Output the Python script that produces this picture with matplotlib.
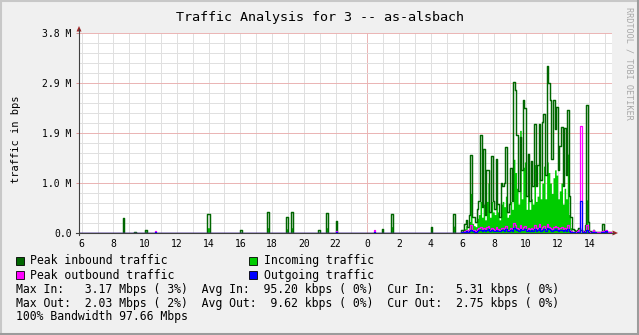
import numpy as np
import matplotlib.pyplot as plt
from matplotlib.lines import Line2D
from matplotlib.patches import Polygon, Rectangle

W, H = 639, 335
MONO = 'DejaVu Sans Mono'

# ---------------- data (hours since midnight of day 1, Mbit/s) ----------------
t_start, t_step, t_end = 5.8, 0.1, 39.4

# isolated inbound spikes in the quiet part
spike_t    = [8.6, 9.3, 10.0, 13.9, 14.0, 16.0, 17.7, 18.9, 19.2, 20.9, 21.4, 22.0, 24.9, 25.5, 28.0, 29.4]
spike_peak = [0.29, 0.02, 0.06, 0.36, 0.36, 0.06, 0.40, 0.30, 0.40, 0.05, 0.38, 0.22, 0.07, 0.37, 0.12, 0.37]
spike_in   = [0.07, 0.01, 0.04, 0.10, 0.10, 0.02, 0.10, 0.08, 0.10, 0.02, 0.10, 0.06, 0.03, 0.12, 0.03, 0.13]

# isolated outbound spikes in the quiet part
spike_out_t    = [10.6, 22.0, 24.4]
spike_out_peak = [0.04, 0.03, 0.05]
spike_out_avg  = [0.01, 0.01, 0.02]

# busy period, one value every 0.1 h starting at 29.9 h
busy_t0 = 29.9
busy_peak_in = [
    0.05, 0.02, 0.18, 0.25, 0.12, 0.35, 1.48, 0.30, 0.31, 0.20,
    0.45, 0.60, 1.86, 0.50, 1.59, 0.35, 1.20, 1.20, 0.40, 1.46,
    0.60, 0.45, 1.40, 0.55, 0.30, 0.95, 0.90, 0.95, 1.63, 0.40,
    0.55, 1.23, 0.60, 2.86, 2.72, 1.86, 0.80, 1.82, 1.20, 2.53,
    2.38, 0.70, 1.51, 0.60, 1.37, 0.90, 2.08, 0.90, 1.30, 2.07,
    1.00, 2.10, 2.27, 1.10, 3.17, 2.85, 2.53, 1.40, 2.53, 1.97,
    2.40, 1.20, 1.65, 2.02, 0.90, 2.00, 1.10, 2.34, 0.70, 0.30,
    0.08, 0.05, 0.03, 0.06, 0.10, 0.05, 0.04, 0.03, 0.15, 2.43,
    0.20, 0.03, 0.02, 0.05, 0.02, 0.01, 0.02, 0.01, 0.02, 0.18,
    0.03, 0.02, 0.01, 0.02, 0.01, 0.02]
busy_in = [
    0.02, 0.01, 0.08, 0.14, 0.06, 0.22, 0.75, 0.18, 0.14, 0.12,
    0.28, 0.35, 0.60, 0.30, 0.55, 0.25, 0.60, 0.95, 0.30, 0.60,
    0.40, 0.35, 0.80, 0.40, 0.25, 0.55, 0.60, 0.50, 0.70, 0.30,
    0.35, 0.60, 0.45, 1.40, 1.15, 0.85, 0.55, 1.95, 0.65, 1.25,
    1.35, 0.45, 0.75, 0.45, 0.65, 0.55, 1.30, 0.60, 0.70, 1.55,
    0.65, 0.95, 1.27, 0.65, 1.35, 1.15, 0.95, 0.75, 1.05, 1.20,
    1.10, 0.65, 0.80, 0.95, 0.55, 0.85, 0.65, 1.50, 0.35, 0.10,
    0.03, 0.02, 0.01, 0.02, 0.04, 0.02, 0.02, 0.01, 0.06, 0.63,
    0.08, 0.01, 0.01, 0.02, 0.01, 0.01, 0.01, 0.01, 0.01, 0.05,
    0.01, 0.01, 0.01, 0.01, 0.01, 0.01]
busy_peak_out = [
    0.01, 0.01, 0.03, 0.05, 0.03, 0.08, 0.15, 0.06, 0.05, 0.04,
    0.08, 0.10, 0.12, 0.07, 0.09, 0.05, 0.11, 0.14, 0.06, 0.10,
    0.07, 0.06, 0.12, 0.08, 0.05, 0.09, 0.10, 0.08, 0.13, 0.05,
    0.06, 0.10, 0.08, 0.19, 0.15, 0.10, 0.07, 0.16, 0.08, 0.12,
    0.14, 0.06, 0.10, 0.07, 0.09, 0.08, 0.15, 0.07, 0.09, 0.17,
    0.08, 0.11, 0.14, 0.08, 0.18, 0.12, 0.10, 0.08, 0.12, 0.13,
    0.11, 0.07, 0.09, 0.12, 0.06, 0.10, 0.07, 0.15, 0.05, 0.03,
    0.02, 0.01, 0.01, 0.03, 0.05, 2.03, 0.03, 0.02, 0.04, 0.15,
    0.04, 0.01, 0.02, 0.06, 0.02, 0.01, 0.01, 0.01, 0.02, 0.04,
    0.02, 0.05, 0.01, 0.01, 0.01, 0.01]
busy_out = [
    0.01, 0.00, 0.02, 0.03, 0.02, 0.04, 0.06, 0.03, 0.02, 0.02,
    0.04, 0.05, 0.06, 0.04, 0.05, 0.03, 0.06, 0.07, 0.03, 0.05,
    0.04, 0.03, 0.06, 0.04, 0.03, 0.05, 0.06, 0.04, 0.07, 0.03,
    0.03, 0.05, 0.04, 0.09, 0.08, 0.05, 0.04, 0.08, 0.05, 0.06,
    0.07, 0.03, 0.05, 0.04, 0.05, 0.04, 0.08, 0.04, 0.05, 0.09,
    0.04, 0.06, 0.08, 0.04, 0.09, 0.07, 0.05, 0.04, 0.06, 0.07,
    0.06, 0.04, 0.05, 0.06, 0.03, 0.05, 0.04, 0.07, 0.03, 0.02,
    0.01, 0.01, 0.00, 0.01, 0.02, 0.60, 0.01, 0.01, 0.02, 0.05,
    0.02, 0.00, 0.01, 0.02, 0.01, 0.00, 0.00, 0.00, 0.01, 0.02,
    0.01, 0.03, 0.00, 0.00, 0.00, 0.01]

y_tick_vals   = [0.0, 0.95, 1.9, 2.85, 3.8]
y_tick_labels = ['0.0', '1.0 M', '1.9 M', '2.9 M', '3.8 M']
x_tick_hours  = list(range(6, 39, 2))

title = 'Traffic Analysis for 3 -- as-alsbach'
legend_items = [('Peak inbound traffic', '#006600'), ('Incoming traffic', '#00CC00'),
                ('Peak outbound traffic', '#FF00FF'), ('Outgoing traffic', '#0000FF')]
stats_lines = [
    'Max In:   3.17 Mbps ( 3%)  Avg In:  95.20 kbps ( 0%)  Cur In:   5.31 kbps ( 0%)',
    'Max Out:  2.03 Mbps ( 2%)  Avg Out:  9.62 kbps ( 0%)  Cur Out:  2.75 kbps ( 0%)',
    '100% Bandwidth 97.66 Mbps',
]

# ---------------- assemble series on a common time grid ----------------
t = np.round(np.arange(t_start, t_end + t_step / 2, t_step), 2)
def idx(times):
    return np.rint((np.asarray(times) - t_start) / t_step).astype(int)

peak_in = np.zeros(len(t)); inc = np.zeros(len(t))
peak_out = np.zeros(len(t)); out = np.zeros(len(t))
peak_in[idx(spike_t)] = spike_peak
inc[idx(spike_t)] = spike_in
peak_out[idx(spike_out_t)] = spike_out_peak
out[idx(spike_out_t)] = spike_out_avg
b0 = idx([busy_t0])[0]
peak_in[b0:b0 + len(busy_peak_in)] = busy_peak_in
inc[b0:b0 + len(busy_in)] = busy_in
peak_out[b0:b0 + len(busy_peak_out)] = busy_peak_out
out[b0:b0 + len(busy_out)] = busy_out
scale = 1e6

# ---------------- figure ----------------
def fx(x):
    return x / W
def fy(y):
    return 1 - y / H

fig = plt.figure(figsize=(W / 100, H / 100), dpi=100, facecolor='#F0F0F0')
ax = fig.add_axes([fx(79), fy(233), (612 - 79) / W, 200 / H])
ax.set_facecolor('white')

x_left = 24 - (367.3 - 79) / 15.87
x_right = 24 + (612 - 367.3) / 15.87
ax.set_xlim(x_left, x_right)
ax.set_ylim(0, 3.8e6)

# grid
minor_c, major_c = '#E0E0E0', '#EBB4B4'
for h in range(6, 40):
    ax.axvline(h, color=major_c if h == 24 else minor_c, lw=0.7, zorder=0, snap=True)
for v in np.arange(0.19, 3.8, 0.19):
    ax.axhline(v * scale, color=minor_c, lw=0.7, zorder=0, snap=True)
for v in y_tick_vals:
    ax.axhline(v * scale, color=major_c, lw=0.7, zorder=0.5, snap=True)

# data
ax.fill_between(t, inc * scale, step='post', color='#00CC00', lw=0, zorder=2)
ax.step(t, peak_in * scale, where='post', color='#006600', lw=1.05, zorder=3)
ax.step(t, peak_out * scale, where='post', color='#FF00FF', lw=0.9, zorder=4)
ax.step(t, out * scale, where='post', color='#0000FF', lw=0.9, zorder=5)

# ticks
ax.set_xticks(x_tick_hours)
ax.set_xticklabels([str(h % 24) for h in x_tick_hours], fontfamily=MONO, fontsize=7)
ax.set_yticks([v * scale for v in y_tick_vals])
ax.set_yticklabels(y_tick_labels, fontfamily=MONO, fontsize=7)
ax.tick_params(axis='x', length=0, pad=4)
ax.tick_params(axis='y', length=2.5, width=0.7, color='#D89090', pad=2.7)
for s in ax.spines.values():
    s.set_visible(False)

# axis lines and arrows
fig.add_artist(Line2D([fx(79), fx(79)], [fy(235), fy(29)], color='#404040', lw=0.8))
fig.add_artist(Line2D([fx(76), fx(614)], [fy(233), fy(233)], color='#404040', lw=0.8))
fig.add_artist(Polygon([(fx(76.5), fy(31.5)), (fx(81.5), fy(31.5)), (fx(79), fy(26))],
                       closed=True, color='#A02828', lw=0))
fig.add_artist(Polygon([(fx(612.5), fy(230.5)), (fx(612.5), fy(235.5)), (fx(618), fy(233))],
                       closed=True, color='#A02828', lw=0))

# texts
fig.text(fx(320), fy(21), title, ha='center', va='baseline', fontfamily=MONO, fontsize=9.6)
fig.text(fx(16), fy(139), 'traffic in bps', ha='center', va='center', rotation=90,
         fontfamily=MONO, fontsize=7.5)
fig.text(fx(628.5), fy(7), 'RRDTOOL / TOBI OETIKER', ha='center', va='top', rotation=270,
         fontfamily=MONO, fontsize=6.1, color='#A8A8A8')

# legend
box_pos = [(16, 257), (249, 257), (16, 271), (249, 271)]
text_pos = [(30.5, 264.3), (263.5, 264.3), (30.5, 278.7), (263.5, 278.7)]
for (label, color), (bx, by), (tx, ty) in zip(legend_items, box_pos, text_pos):
    fig.add_artist(Rectangle((fx(bx), fy(by + 8)), 8 / W, 8 / H, facecolor=color,
                             edgecolor='black', lw=0.6))
    fig.text(fx(tx), fy(ty), label, ha='left', va='baseline', fontfamily=MONO, fontsize=8.3)
for line, yb in zip(stats_lines, [292.7, 306.7, 320.3]):
    fig.text(fx(16), fy(yb), line, ha='left', va='baseline', fontfamily=MONO, fontsize=8.3)

# frame
fig.add_artist(Line2D([0, 1], [fy(1), fy(1)], color='#C8C8C8', lw=1.5))
fig.add_artist(Line2D([fx(1), fx(1)], [0, 1], color='#C8C8C8', lw=1.5))
fig.add_artist(Line2D([fx(637.5), fx(637.5)], [0, 1], color='#9C9C9C', lw=2.2))
fig.add_artist(Line2D([0, 1], [fy(333.5), fy(333.5)], color='#9C9C9C', lw=2.2))

fig.savefig('out.png', dpi=100, facecolor=fig.get_facecolor())
